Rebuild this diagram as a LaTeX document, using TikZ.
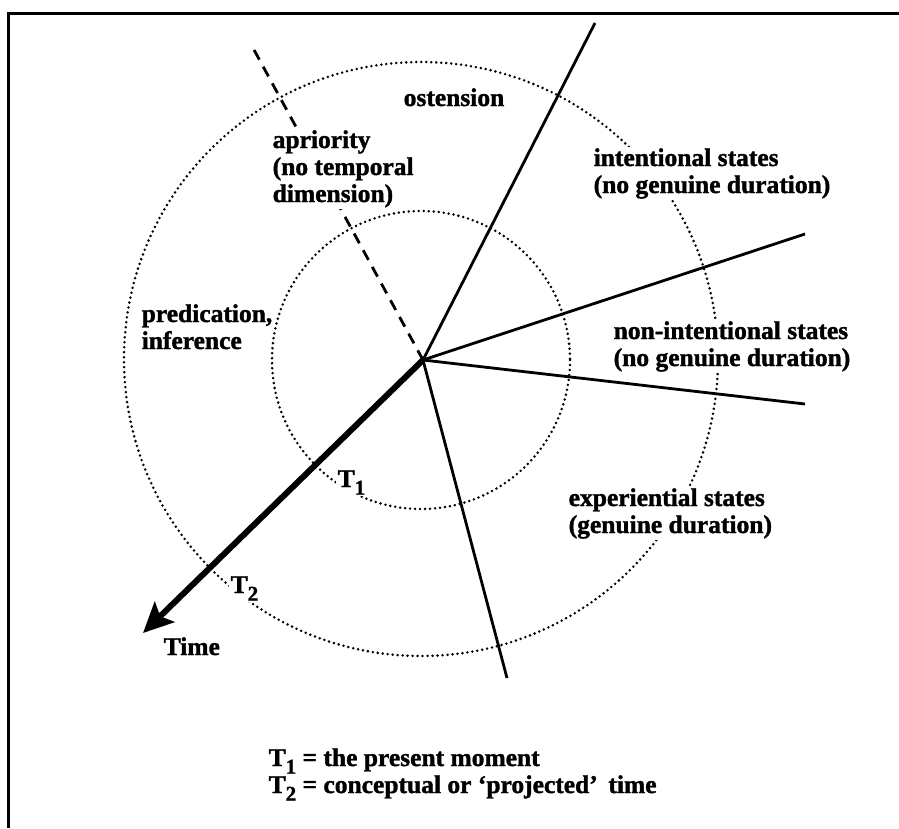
\documentclass[tikz,border=0pt]{standalone}
\usepackage{fontspec}
\setmainfont[BoldFeatures={FakeBold=1.4}]{Liberation Serif}
\usetikzlibrary{arrows.meta}
\newcommand{\Tsub}[1]{T\raisebox{-0.3em}{\fontsize{21}{21}\selectfont #1}}
\begin{document}
\begin{tikzpicture}[x=1pt,y=-1pt,
  frame/.style={line width=3pt},
  ray/.style={line width=2.8pt},
  dashray/.style={line width=2.8pt, dash pattern=on 11pt off 8pt},
  timearrow/.style={line width=6pt, -{Stealth[length=30pt,width=28pt,inset=6pt]}},
  dotcircle/.style={line width=2.8pt, line cap=round, dash pattern=on 0pt off 5pt},
  lbl/.style={font=\bfseries\fontsize{25.5}{27}\selectfont, fill=white, inner sep=1.5pt, align=left, anchor=base west},
  clearlbl/.style={lbl, fill=none}]
\useasboundingbox (0,0) rectangle (899,828);
% frame
\draw[frame] (7,13) -- (899,13);
\draw[frame] (8,13) -- (8,828);
% centre and ray ends
\coordinate (c) at (423,360);
\coordinate (eDash) at (253,48);
\coordinate (eUp) at (595,23);
\coordinate (eRU) at (805,234);
\coordinate (eRD) at (805,404);
\coordinate (eDown) at (507,678);
\coordinate (eTime) at (143,633);
% circles
\draw[dotcircle] (421,360) circle[radius=149];
\draw[dotcircle] (421,359) circle[radius=297];
% rays
\draw[dashray] (c) -- (eDash);
\draw[ray] (c) -- (eUp);
\draw[ray] (c) -- (eRU);
\draw[ray] (c) -- (eRD);
\draw[ray] (c) -- (eDown);
\draw[timearrow] (c) -- (eTime);
% labels (anchor = baseline of the last line)
\node[clearlbl] (ost) at (402,106) {ostension};
\node[lbl] (apr) at (271,202) {apriority\\(no temporal\\dimension)};
\node[lbl] (int) at (592,193) {intentional states\\(no genuine duration)};
\node[clearlbl] (pred) at (140,349) {predication,\\inference};
\node[lbl] (nonint) at (612,366) {non-intentional states\\(no genuine duration)};
\node[lbl] (exp) at (567,533) {experiential states\\(genuine duration)};
\node[lbl] (t1) at (336,487) {\Tsub{1}};
\node[lbl] (t2) at (229,593) {\Tsub{2}};
\node[clearlbl] (time) at (162,655) {Time};
\node[clearlbl] (legend) at (267,793) {\Tsub{1} = the present moment\\\Tsub{2} = conceptual or ‘projected’\, time};
\end{tikzpicture}
\end{document}
